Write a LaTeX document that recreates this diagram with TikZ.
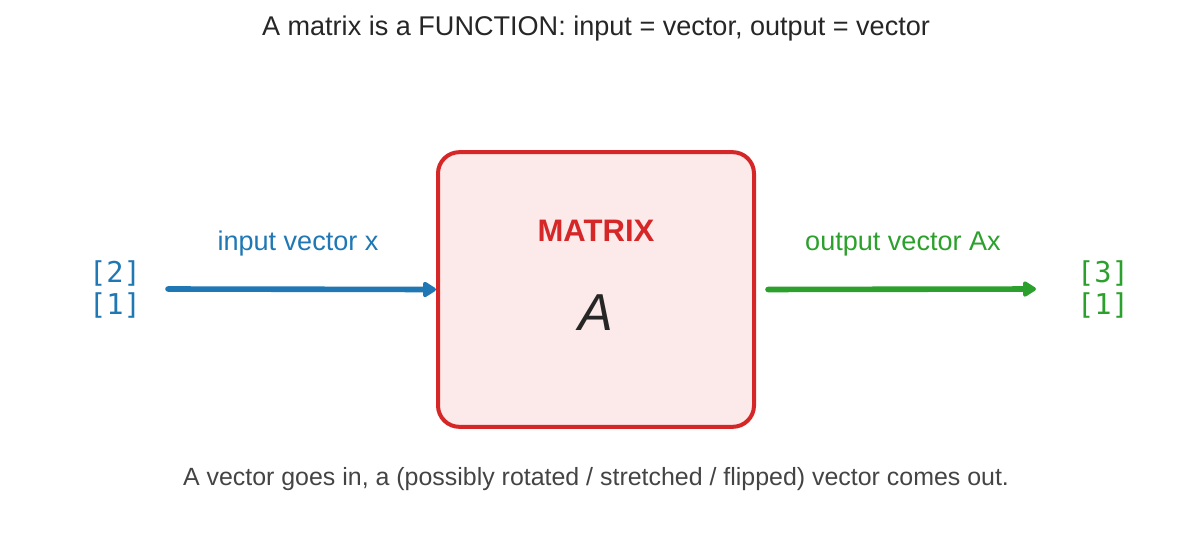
\documentclass[tikz,border=0pt]{standalone}
\usepackage{fontspec}
\setmainfont{Liberation Sans}
\setmonofont{DejaVu Sans Mono}
\usepackage{xcolor}
\usetikzlibrary{arrows.meta,positioning}

\definecolor{mplblue}{HTML}{1F77B4}
\definecolor{mplgreen}{HTML}{2CA02C}
\definecolor{mplred}{HTML}{D62728}
\definecolor{boxfill}{HTML}{FCE9E9}
\definecolor{titlegray}{HTML}{262626}
\definecolor{notegray}{HTML}{444444}

\begin{document}
\begin{tikzpicture}[x=0.75pt,y=-0.75pt,
  txt/.style={inner sep=0pt,anchor=base,font=\fontsize{20.3}{24}\selectfont},
  vec/.style={inner sep=0pt,anchor=base,font=\ttfamily\fontsize{21.5}{24}\selectfont},
  flow/.style={line width=4.2pt,line cap=round,-{Stealth[length=11pt,width=13pt,inset=0pt,round]}}]
  \useasboundingbox (0,0) rectangle (1192,547);
  % title and caption
  \node[txt,text=titlegray] (title) at (596,35) {A matrix is a FUNCTION: input = vector, output = vector};
  \node[txt,text=notegray,font=\fontsize{18.7}{22}\selectfont] (note) at (596,485) {A vector goes in, a (possibly rotated / stretched / flipped) vector comes out.};
  % the matrix box
  \node[draw=mplred,fill=boxfill,line width=3pt,rounded corners=16pt,
        minimum width=237pt,minimum height=206pt,inner sep=0pt] (box) at (596,289.5) {};
  \node[txt,text=mplred,font=\bfseries\fontsize{23.3}{27}\selectfont] (mlabel) at (596,241.5) {MATRIX};
  \node[txt,text=titlegray,font=\itshape\fontsize{39}{44}\selectfont] (mname) at (596,330) {A};
  % input side
  \node[vec,text=mplblue] (vinTop) at (115,282.5) {[2]};
  \node[vec,text=mplblue] (vinBot) at (115,314) {[1]};
  \coordinate (inStart) at (168,289);
  \draw[flow,mplblue] (inStart) -- (box.west);
  \node[txt,text=mplblue] (inlabel) at (298,250) {input vector x};
  % output side
  \node[vec,text=mplgreen] (voutTop) at (1103,282.5) {[3]};
  \node[vec,text=mplgreen] (voutBot) at (1103,314) {[1]};
  \coordinate (outEnd) at (1036,289);
  \draw[flow,mplgreen,shorten <=9pt] (box.east) -- (outEnd);
  \node[txt,text=mplgreen] (outlabel) at (903,250) {output vector Ax};
\end{tikzpicture}
\end{document}
